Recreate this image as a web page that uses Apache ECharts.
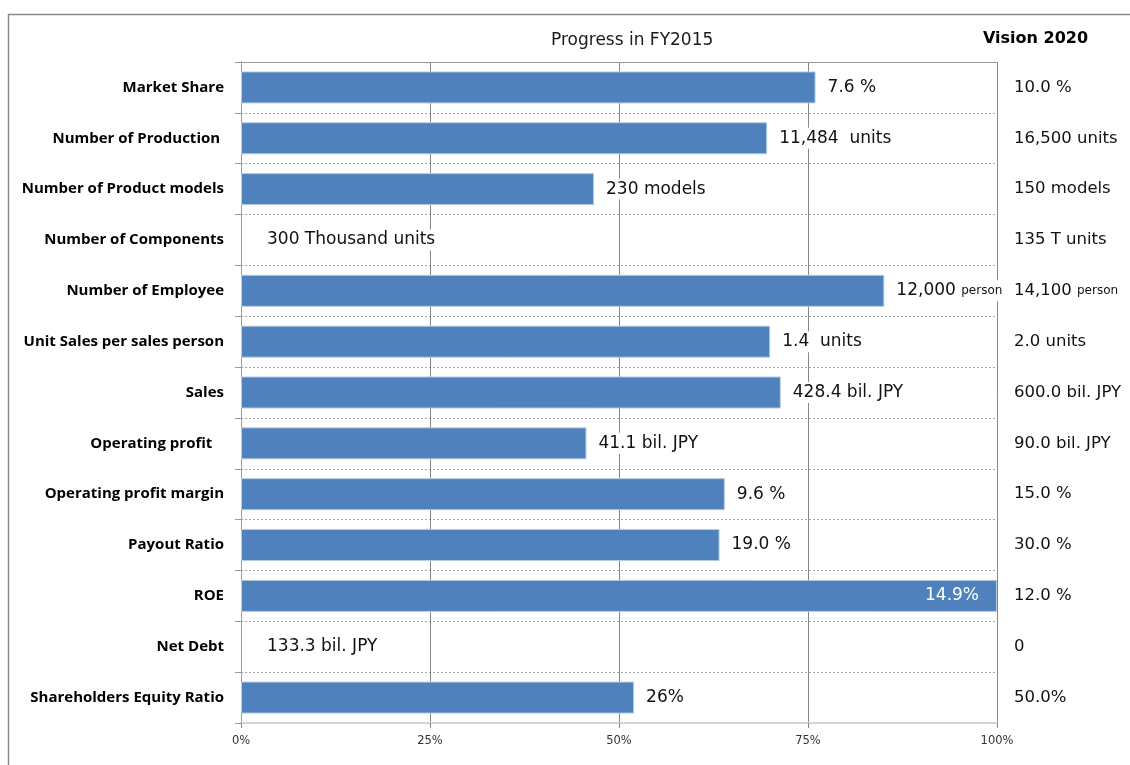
<!DOCTYPE html>
<html>
<head>
<meta charset="utf-8">
<script src="https://cdn.jsdelivr.net/npm/echarts@6/dist/echarts.min.js"></script>
<style>
  html, body { margin: 0; padding: 0; background: #fff; }
  #chart { width: 1130px; height: 765px; }
</style>
</head>
<body>
<div id="chart"></div>
<script>
// rows, top to bottom
const categories = [
  'Market Share', 'Number of Production ', 'Number of Product models', 'Number of Components',
  'Number of Employee', 'Unit Sales per sales person', 'Sales', 'Operating profit   ',
  'Operating profit margin', 'Payout Ratio', 'ROE', 'Net Debt', 'Shareholders Equity Ratio'
]
// progress toward the 2020 target, % (capped at 100)
const progress = [76, 69.6, 46.7, 0, 85.1, 70, 71.4, 45.7, 64, 63.3, 100, 0, 52]
// FY2015 actuals shown next to the bars
const actualText = [
  '7.6 %', '11,484  units', '230 models', '300 Thousand units', '12,000 {s|person}',
  '1.4  units', '428.4 bil. JPY', '41.1 bil. JPY', '9.6 %', '19.0 %', '14.9%',
  '133.3 bil. JPY', '26%'
]
// Vision 2020 targets
const visionText = [
  '10.0 %', '16,500 units', '150 models', '135 T units', '14,100 {s|person}',
  '2.0 units', '600.0 bil. JPY', '90.0 bil. JPY', '15.0 %', '30.0 %', '12.0 %',
  '0', '50.0%'
]
const xTicks = [0, 25, 50, 75, 100]

const font = '"Open Sans", sans-serif'
const wide = '"DejaVu Sans", sans-serif'
const chart = echarts.init(document.getElementById('chart'))

const barData = progress.map(v => {
  const item = { value: v }
  if (v >= 100) {
    item.label = { position: 'insideRight', distance: 16, color: '#fff', backgroundColor: 'transparent' }
  } else if (v === 0) {
    item.label = { distance: 24 }
    item.itemStyle = { borderWidth: 0 }
  }
  return item
})

const option = {
  animation: false,
  textStyle: { fontFamily: wide },
  title: [
    {
      text: 'Progress in FY2015', left: 546, top: 27,
      textStyle: { fontSize: 17, fontWeight: 'normal', color: '#1a1a1a', fontFamily: wide }
    },
    {
      text: 'Vision 2020', left: 978, top: 26,
      textStyle: { fontSize: 16, fontWeight: 'bold', color: '#000', fontFamily: wide }
    }
  ],
  graphic: [
    {
      type: 'rect', silent: true,
      shape: { x: 8.5, y: 14.5, width: 1200, height: 800 },
      style: { fill: 'none', stroke: '#8a8a8a', lineWidth: 1.5 }
    }
  ],
  grid: { left: 241, right: 133, top: 62, bottom: 42 },
  xAxis: [
    {
      type: 'value', min: 0, max: 100, interval: 25, position: 'bottom',
      axisLine: { show: true, lineStyle: { color: '#d4d4d4', width: 2 } },
      axisTick: { show: true, length: 5, lineStyle: { color: '#868686' } },
      splitLine: { show: true, lineStyle: { color: '#868686', width: 1 } },
      axisLabel: {
        margin: 12, fontSize: 11.5, color: '#333', fontFamily: wide,
        formatter: v => xTicks.includes(v) ? v + '%' : ''
      }
    },
    {
      type: 'value', min: 0, max: 100, position: 'top',
      axisLine: { show: true, onZero: false, lineStyle: { color: '#9a9a9a', width: 1 } },
      axisTick: { show: false }, axisLabel: { show: false }, splitLine: { show: false }
    }
  ],
  yAxis: [
    {
      type: 'category', data: categories, inverse: true, position: 'left',
      axisLine: { show: true, lineStyle: { color: '#9a9a9a' } },
      axisTick: { show: true, length: 6, lineStyle: { color: '#9a9a9a' } },
      splitLine: { show: true, lineStyle: { color: '#a8a8a8', type: [2, 2] } },
      axisLabel: {
        margin: 17, fontSize: 15, fontWeight: 'bold', color: '#000', fontFamily: font
      }
    },
    {
      type: 'category', data: categories, inverse: true, position: 'right',
      axisLine: { show: true, lineStyle: { color: '#9a9a9a' } },
      axisTick: { show: false },
      splitLine: { show: false },
      axisLabel: {
        margin: 17, fontSize: 16.5, color: '#111', align: 'left', fontFamily: wide,
        formatter: (v, i) => visionText[i],
        rich: { s: { fontSize: 12, color: '#111', fontFamily: wide } }
      }
    }
  ],
  series: [
    {
      type: 'bar',
      data: barData,
      barCategoryGap: '37%',
      itemStyle: { color: '#4f81bd', borderColor: '#b8cce4', borderWidth: 1 },
      label: {
        show: true, position: 'right', distance: 10,
        fontSize: 17, color: '#111', fontFamily: wide,
        backgroundColor: '#fff', padding: [2, 2],
        formatter: p => actualText[p.dataIndex],
        rich: { s: { fontSize: 12, color: '#111', fontFamily: wide } }
      }
    }
  ]
}

chart.setOption(option)
</script>
</body>
</html>
